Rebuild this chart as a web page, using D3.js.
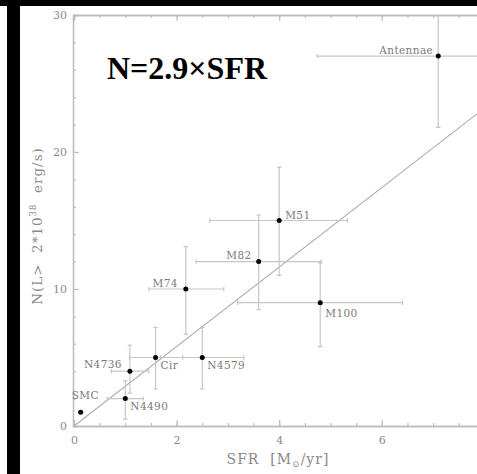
<!DOCTYPE html>
<html>
<head>
<meta charset="utf-8">
<script src="https://cdn.jsdelivr.net/npm/d3@7"></script>
<style>
  body { margin: 0; background: #fff; }
  svg { display: block; }
</style>
</head>
<body>
<script>
// values
const galaxies = ["SMC", "N4490", "N4736", "Cir", "N4579", "M74", "M82", "M51", "M100", "Antennae"]
const sfr   = [0.13, 1.0, 1.09, 1.59, 2.5, 2.18, 3.6, 4.0, 4.8, 7.1]
const sfrLo = [0.13, 0.65, 0.73, 1.08, 1.69, 1.46, 2.38, 2.65, 3.19, 4.74]
const sfrHi = [0.13, 1.35, 1.46, 2.12, 3.31, 2.92, 4.82, 5.33, 6.4, 9.46]
const nSrc  = [1, 2, 4, 5, 5, 10, 12, 15, 9, 27]
const nLo   = [1, 0.5, 2.4, 2.7, 2.7, 6.7, 8.5, 11.0, 5.8, 21.8]
const nHi   = [1, 3.3, 5.9, 7.2, 7.2, 13.1, 15.4, 18.9, 11.9, 32.2]
const xTicks = [0, 2, 4, 6]
const yTicks = [0, 10, 20, 30]
const slope = 2.9
const title = "N=2.9×SFR"

// where each name sits next to its point: [dx, dy, anchor]
const labelPlace = {
    SMC: [-9, -13, 'start'], N4490: [5, 11, 'start'], N4736: [-8, -3, 'end'],
    Cir: [5, 11, 'start'], N4579: [5, 11, 'start'], M74: [-8, -2, 'end'],
    M82: [-7, -3, 'end'], M51: [6, -2, 'start'], M100: [5, 14, 'start'],
    Antennae: [-5, -2, 'end']
}

const W = 477, H = 474
const axisCol = '#bdbdbd', barCol = '#c6c6c6', textCol = '#8a8a8a'
const serif = '"DejaVu Serif", serif'

const points = galaxies.map((g, i) => ({
    name: g, x: sfr[i], x0: sfrLo[i], x1: sfrHi[i], y: nSrc[i], y0: nLo[i], y1: nHi[i]
}))

const svg = d3.select('body').append('svg')
    .attr('width', W)
    .attr('height', H)

const x = d3.scaleLinear().domain([0, 8]).range([74, 484.4])
const y = d3.scaleLinear().domain([0, 30]).range([426, 15])

svg.append('clipPath').attr('id', 'plot')
    .append('rect')
    .attr('x', x(0)).attr('y', y(30))
    .attr('width', x(8) - x(0)).attr('height', y(0) - y(30))

const styleAxis = g => {
    g.select('.domain').attr('stroke', axisCol).attr('stroke-width', 1.3)
    g.selectAll('.tick line').attr('stroke', axisCol).attr('stroke-width', 1.2)
    g.selectAll('.tick text')
        .attr('fill', textCol)
        .style('font-family', serif)
        .style('font-size', '11px')
}

//x axes, bottom + top, ticks inward
const xMinor = d3.range(0, 8.01, 0.5)
const xMajor = xTicks.concat([8])
svg.append('g')
    .attr('transform', `translate(0,${y(0)})`)
    .call(d3.axisBottom(x).tickValues(xMinor).tickSize(-3).tickFormat(''))
    .call(styleAxis)
svg.append('g')
    .attr('transform', `translate(0,${y(0)})`)
    .call(d3.axisBottom(x).tickValues(xTicks).tickSize(-6).tickPadding(10).tickFormat(d3.format('d')))
    .call(styleAxis)
svg.append('g')
    .attr('transform', `translate(0,${y(30)})`)
    .call(d3.axisTop(x).tickValues(xMinor).tickSize(-3).tickFormat(''))
    .call(styleAxis)
svg.append('g')
    .attr('transform', `translate(0,${y(30)})`)
    .call(d3.axisTop(x).tickValues(xMajor).tickSize(-6).tickFormat(''))
    .call(styleAxis)

//y axis
svg.append('g')
    .attr('transform', `translate(${x(0) - 1},0)`)
    .call(d3.axisLeft(y).tickValues(d3.range(0, 30.1, 2)).tickSize(-3).tickFormat(''))
    .call(styleAxis)
svg.append('g')
    .attr('transform', `translate(${x(0) - 1},0)`)
    .call(d3.axisLeft(y).tickValues(yTicks).tickSize(-6).tickPadding(6).tickFormat(d3.format('d')))
    .call(styleAxis)

const plot = svg.append('g').attr('clip-path', 'url(#plot)')

// fit line
plot.append('line')
    .attr('x1', x(0)).attr('y1', y(0))
    .attr('x2', x(8)).attr('y2', y(8 * slope))
    .attr('stroke', '#aaa')
    .attr('stroke-width', 1.1)

// error bars
const bars = plot.selectAll('.err')
    .data(points.filter(d => d.x1 > d.x0)).enter()
    .append('g')
    .attr('class', 'err')
    .attr('stroke', barCol)
    .attr('stroke-width', 1.2)

bars.append('line')
    .attr('x1', d => x(d.x0)).attr('x2', d => x(d.x1))
    .attr('y1', d => y(d.y)).attr('y2', d => y(d.y))
bars.append('line')
    .attr('x1', d => x(d.x)).attr('x2', d => x(d.x))
    .attr('y1', d => y(d.y0)).attr('y2', d => y(d.y1))
// caps
const cap = 2.2
bars.each(function(d) {
    const g = d3.select(this)
    ;[d.x0, d.x1].forEach(v => g.append('line')
        .attr('x1', x(v)).attr('x2', x(v))
        .attr('y1', y(d.y) - cap).attr('y2', y(d.y) + cap))
    ;[d.y0, d.y1].forEach(v => g.append('line')
        .attr('x1', x(d.x) - cap).attr('x2', x(d.x) + cap)
        .attr('y1', y(v)).attr('y2', y(v)))
})

plot.selectAll('.dot')
    .data(points).enter()
    .append('circle')
    .attr('class', 'dot')
    .attr('cx', d => x(d.x))
    .attr('cy', d => y(d.y))
    .attr('r', 2.5)
    .attr('fill', '#000')

svg.selectAll('.name')
    .data(points).enter()
    .append('text')
    .attr('class', 'name')
    .attr('x', d => x(d.x) + labelPlace[d.name][0])
    .attr('y', d => y(d.y) + labelPlace[d.name][1])
    .attr('text-anchor', d => labelPlace[d.name][2])
    .attr('fill', '#7a7a7a')
    .style('font-family', serif)
    .style('font-size', '10.5px')
    .style('letter-spacing', '0.4px')
    .text(d => d.name)

// axis titles
const yl = svg.append('text')
    .attr('transform', 'translate(42,226) rotate(-90)')
    .attr('text-anchor', 'middle')
    .attr('fill', textCol)
    .style('font-family', serif)
    .style('font-size', '13.5px')
    .style('letter-spacing', '1px')
    .attr('xml:space', 'preserve')
yl.append('tspan').text('N(L>  2*10')
yl.append('tspan').attr('dy', -6).style('font-size', '8.5px').text('38')
yl.append('tspan').attr('dy', 6).text('  erg/s)')

const xl = svg.append('text')
    .attr('x', 278).attr('y', 464)
    .attr('text-anchor', 'middle')
    .attr('fill', textCol)
    .style('font-family', serif)
    .style('font-size', '14px')
    .style('letter-spacing', '1px')
    .attr('xml:space', 'preserve')
xl.append('tspan').text('SFR  [M')
xl.append('tspan').attr('dy', 3).style('font-size', '9px').text('⊙')
xl.append('tspan').attr('dy', -3).text('/yr]')

svg.append('text')
    .attr('x', 107).attr('y', 79)
    .style('font-family', '"Liberation Serif", "Times New Roman", serif')
    .style('font-weight', 'bold')
    .style('font-size', '32px')
    .text(title)

// black frame strips of the scan
svg.append('rect').attr('x', 0).attr('y', 0).attr('width', W).attr('height', 6).attr('fill', '#000')
svg.append('rect').attr('x', 7).attr('y', 0).attr('width', 13).attr('height', H).attr('fill', '#000')
</script>
</body>
</html>
